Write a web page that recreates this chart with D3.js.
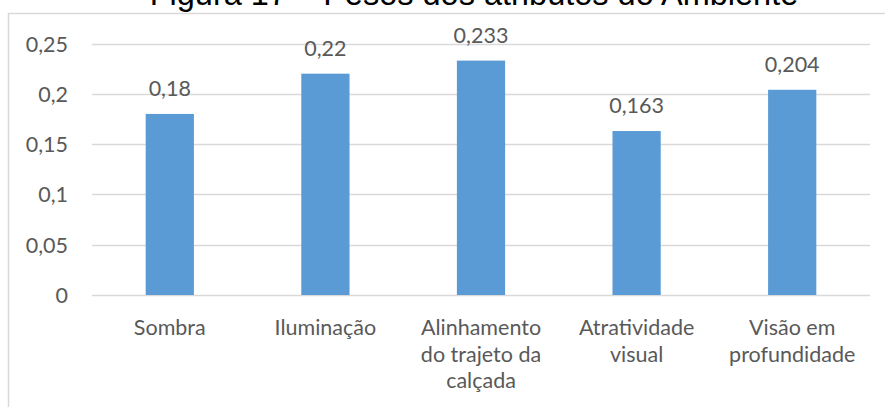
<!DOCTYPE html>
<html>
<head>
<meta charset="utf-8">
<script src="https://cdn.jsdelivr.net/npm/d3@7"></script>
<style>
  html, body { margin: 0; padding: 0; background: #fff; }
  svg { display: block; }
</style>
</head>
<body>
<svg id="chart" width="885" height="407"></svg>
<script>
// Pesos dos atributos do Ambiente
const categories = [
  ["Sombra"],
  ["Iluminação"],
  ["Alinhamento", "do trajeto da", "calçada"],
  ["Atratividade", "visual"],
  ["Visão em", "profundidade"]
];
const values = [0.18, 0.22, 0.233, 0.163, 0.204];
const yTicks = [0, 0.05, 0.1, 0.15, 0.2, 0.25];
const title = "Figura 17 – Pesos dos atributos do Ambiente";

const W = 885, H = 407;
const plot = { left: 92, right: 870, top: 43.5, bottom: 295 };
const textColor = "#595959";
const gridColor = "#D9D9D9";
const barColor = "#5B9BD5";
const chartFont = "Lato, 'Open Sans', sans-serif";
const fontSize = 21.5;

const svg = d3.select("#chart");
const fmt = v => String(v).replace(".", ",");

// chart frame (only top and left edges fall inside the view)
svg.append("rect")
  .attr("x", 8.5).attr("y", 13.5)
  .attr("width", W + 20).attr("height", H + 20)
  .attr("fill", "#fff")
  .attr("stroke", gridColor).attr("stroke-width", 1.5);

// title, sitting above the frame
svg.append("text")
  .attr("x", 474).attr("y", 5)
  .attr("text-anchor", "middle")
  .attr("font-family", "'Liberation Sans', Arial, sans-serif")
  .attr("font-size", 32.5)
  .attr("fill", "#000")
  .text(title);

const x = d3.scaleBand()
  .domain(d3.range(categories.length))
  .range([plot.left, plot.right])
  .paddingInner(0.69)
  .paddingOuter(0.345);

const y = d3.scaleLinear()
  .domain([0, 0.25])
  .range([plot.bottom, plot.top]);

// gridlines
svg.append("g")
  .selectAll("line")
  .data(yTicks)
  .join("line")
  .attr("x1", plot.left).attr("x2", plot.right)
  .attr("y1", d => Math.round(y(d)) + 0.5)
  .attr("y2", d => Math.round(y(d)) + 0.5)
  .attr("stroke", gridColor)
  .attr("stroke-width", 1.3);

// y axis labels
const yAxis = d3.axisLeft(y).tickValues(yTicks).tickFormat(fmt).tickSize(0).tickPadding(0);
const yg = svg.append("g").attr("transform", `translate(68,0)`).call(yAxis);
yg.select(".domain").remove();
yg.selectAll("text")
  .attr("fill", textColor)
  .attr("font-family", chartFont)
  .attr("font-size", fontSize)
  .attr("dy", "0.35em");

// bars
svg.append("g")
  .selectAll("rect")
  .data(values)
  .join("rect")
  .attr("x", (d, i) => x(i))
  .attr("width", x.bandwidth())
  .attr("y", d => y(d))
  .attr("height", d => y(0) - y(d))
  .attr("fill", barColor);

// value labels
svg.append("g")
  .selectAll("text")
  .data(values)
  .join("text")
  .attr("x", (d, i) => x(i) + x.bandwidth() / 2)
  .attr("y", d => y(d) - 18)
  .attr("text-anchor", "middle")
  .attr("fill", textColor)
  .attr("font-family", chartFont)
  .attr("font-size", fontSize)
  .text(fmt);

// category labels
const cat = svg.append("g")
  .selectAll("text")
  .data(categories)
  .join("text")
  .attr("x", (d, i) => x(i) + x.bandwidth() / 2)
  .attr("y", 335)
  .attr("text-anchor", "middle")
  .attr("fill", textColor)
  .attr("font-family", chartFont)
  .attr("font-size", fontSize);
cat.selectAll("tspan")
  .data(d => d)
  .join("tspan")
  .attr("x", function () { return d3.select(this.parentNode).attr("x"); })
  .attr("dy", (d, i) => i === 0 ? 0 : 26.5)
  .text(d => d);
</script>
</body>
</html>
